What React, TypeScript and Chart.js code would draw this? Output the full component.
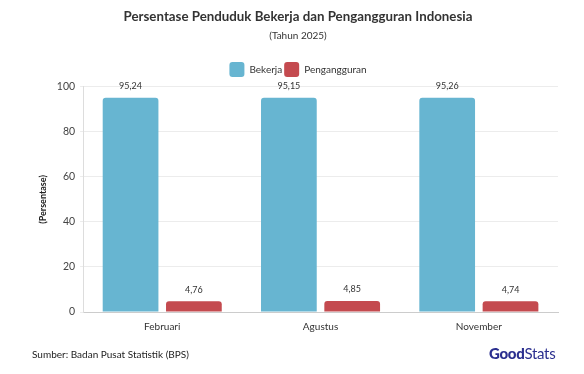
import React, { useEffect, useRef } from "react";
import { Chart, registerables } from "chart.js";

Chart.register(...registerables);

const categories = ["Februari", "Agustus", "November"];
const bekerja = [95.24, 95.15, 95.26];
const pengangguran = [4.76, 4.85, 4.74];
const yTicks = [0, 20, 40, 60, 80, 100];

const FONT = "Lato, 'Open Sans', sans-serif";

const labelPlugin = {
  id: "valueLabels",
  afterDatasetsDraw(chart: any) {
    const ctx = chart.ctx;
    ctx.save();
    ctx.font = `9px ${FONT}`;
    ctx.fillStyle = "#333";
    ctx.textAlign = "center";
    ctx.textBaseline = "bottom";
    chart.data.datasets.forEach((ds: any, i: number) => {
      const meta = chart.getDatasetMeta(i);
      meta.data.forEach((bar: any, j: number) => {
        const v = ds.data[j];
        ctx.fillText(v.toFixed(2).replace(".", ","), bar.x, bar.y - 7);
      });
    });
    ctx.restore();
  },
};

export default function App() {
  const ref = useRef<HTMLCanvasElement>(null);
  useEffect(() => {
    const chart = new Chart(ref.current!, {
      type: "bar",
      data: {
        labels: categories,
        datasets: [
          {
            label: "Bekerja",
            data: bekerja,
            backgroundColor: "#67b5d1",
            borderRadius: 3,
            borderSkipped: "bottom",
          },
          {
            label: "Pengangguran",
            data: pengangguran,
            backgroundColor: "#c44a4f",
            borderRadius: 3,
            borderSkipped: "bottom",
          },
        ],
      },
      options: {
        animation: false,
        responsive: false,
        devicePixelRatio: 1,
        layout: { padding: { left: 38, right: 26, top: 9, bottom: 40 } },
        datasets: { bar: { categoryPercentage: 0.8, barPercentage: 0.88 } },
        plugins: {
          title: {
            display: true,
            text: "Persentase Penduduk Bekerja dan Pengangguran Indonesia",
            color: "#333",
            font: { family: FONT, size: 13.3, weight: "bold" },
            padding: { top: 0, bottom: 5 },
          },
          subtitle: {
            display: true,
            text: "(Tahun 2025)",
            color: "#333",
            font: { family: FONT, size: 10 },
            padding: { top: 0, bottom: 18 },
          },
          legend: {
            display: true,
            labels: {
              color: "#333",
              font: { family: FONT, size: 10 },
              boxWidth: 15,
              boxHeight: 15,
              useBorderRadius: true,
              borderRadius: 3,
              padding: 2,
            },
          },
          tooltip: { enabled: false },
        },
        scales: {
          x: {
            grid: { display: false },
            border: { color: "#ccc" },
            ticks: { color: "#333", font: { family: FONT, size: 10 }, padding: 1 },
          },
          y: {
            min: 0,
            max: 100,
            afterBuildTicks: (axis: any) => {
              axis.ticks = yTicks.map((v) => ({ value: v }));
            },
            grid: { color: "#ececec", tickLength: 3 },
            border: { color: "#ddd" },
            ticks: { color: "#444", font: { family: FONT, size: 10.5 }, padding: 5 },
            title: {
              display: true,
              text: "(Persentase)",
              color: "#222",
              font: { family: FONT, size: 9, weight: "bold" },
              padding: { top: 0, bottom: 3 },
            },
          },
        },
      },
      plugins: [labelPlugin],
    } as any);
    return () => chart.destroy();
  }, []);

  return (
    <div style={{ position: "absolute", left: 0, top: 0, width: 584, height: 374, background: "#fff" }}>
      <canvas ref={ref} width={584} height={374} style={{ position: "absolute", left: 0, top: 0 }} />
      <div
        style={{
          position: "absolute",
          left: 32,
          top: 348,
          fontFamily: FONT,
          fontSize: 10,
          color: "#222",
        }}
      >
        Sumber: Badan Pusat Statistik (BPS)
      </div>
      <div
        style={{
          position: "absolute",
          left: 489,
          top: 344,
          fontFamily: FONT,
          fontSize: 15,
          color: "#2b2f8f",
          letterSpacing: -0.3,
        }}
      >
        <span style={{ fontWeight: 900 }}>Good</span>
        <span style={{ fontWeight: 400 }}>Stats</span>
      </div>
    </div>
  );
}
